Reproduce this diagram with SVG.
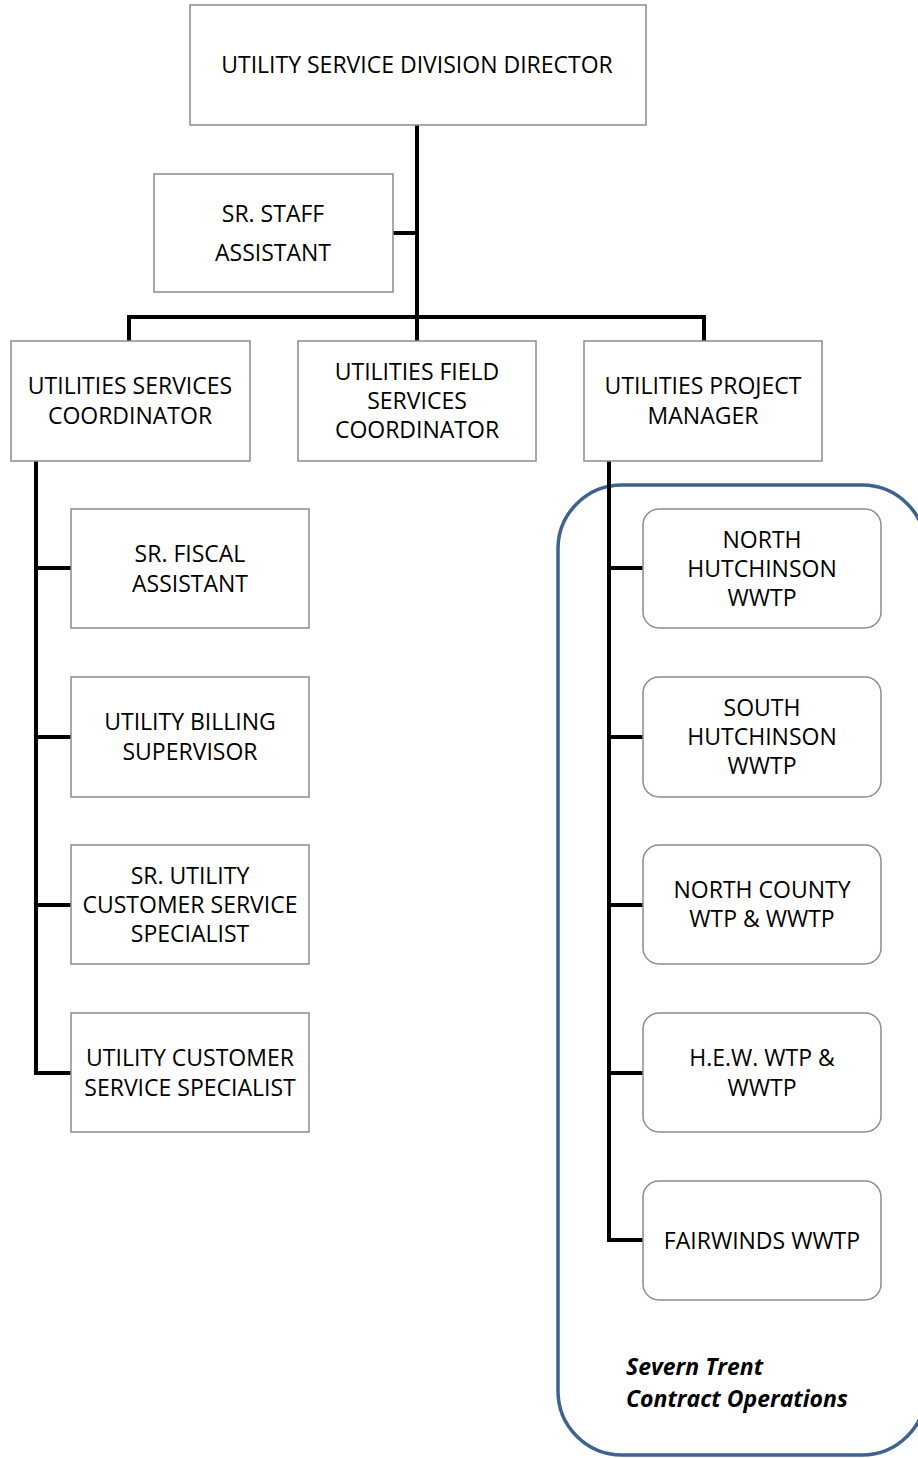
<svg xmlns="http://www.w3.org/2000/svg" width="918" height="1458" viewBox="0 0 918 1458">
  <style>
    .box { fill: #ffffff; stroke: #8c8c8c; stroke-width: 1.5; }
    .link { fill: none; stroke: #000000; stroke-width: 4; stroke-linejoin: miter; }
    .label { font-family: "Open Sans", "Noto Sans", sans-serif; font-size: 23px; fill: #000000; text-anchor: middle; dominant-baseline: central; }
    .note { font-family: "Open Sans", "Noto Sans", sans-serif; font-size: 23px; font-weight: bold; font-style: italic; fill: #000000; dominant-baseline: central; }
    .group { fill: none; stroke: #3d6393; stroke-width: 3.5; }
  </style>
  <rect width="918" height="1458" fill="#ffffff"/>

  <!-- contract operations group outline -->
  <rect class="group" x="558" y="485" width="368" height="970" rx="64" ry="64"/>

  <!-- connectors -->
  <g id="connectors">
    <path class="link" d="M417 125 V341"/>
    <path class="link" d="M393 233 H417"/>
    <path class="link" d="M129 341 V317 H704 V341"/>
    <path class="link" d="M36 461 V1073 H71"/>
    <path class="link" d="M36 568 H71 M36 737 H71 M36 905 H71"/>
    <path class="link" d="M609 461 V1240 H643"/>
    <path class="link" d="M609 568 H643 M609 737 H643 M609 905 H643 M609 1073 H643"/>
  </g>

  <g id="director">
    <rect class="box" x="190" y="5" width="456" height="120"/>
    <text class="label" x="417" y="64">UTILITY SERVICE DIVISION DIRECTOR</text>
  </g>
  <g id="staff-assistant">
    <rect class="box" x="154" y="174" width="239" height="118"/>
    <text class="label" x="273" y="213">SR. STAFF</text>
    <text class="label" x="273" y="252">ASSISTANT</text>
  </g>
  <g id="services-coordinator">
    <rect class="box" x="11" y="341" width="239" height="120"/>
    <text class="label" x="130" y="385">UTILITIES SERVICES</text>
    <text class="label" x="130" y="415">COORDINATOR</text>
  </g>
  <g id="field-coordinator">
    <rect class="box" x="298" y="341" width="238" height="120"/>
    <text class="label" x="417" y="371">UTILITIES FIELD</text>
    <text class="label" x="417" y="400">SERVICES</text>
    <text class="label" x="417" y="429">COORDINATOR</text>
  </g>
  <g id="project-manager">
    <rect class="box" x="584" y="341" width="238" height="120"/>
    <text class="label" x="703" y="385">UTILITIES PROJECT</text>
    <text class="label" x="703" y="415">MANAGER</text>
  </g>

  <g id="fiscal-assistant">
    <rect class="box" x="71" y="509" width="238" height="119"/>
    <text class="label" x="190" y="553">SR. FISCAL</text>
    <text class="label" x="190" y="583">ASSISTANT</text>
  </g>
  <g id="billing-supervisor">
    <rect class="box" x="71" y="677" width="238" height="120"/>
    <text class="label" x="190" y="721">UTILITY BILLING</text>
    <text class="label" x="190" y="751">SUPERVISOR</text>
  </g>
  <g id="sr-customer-specialist">
    <rect class="box" x="71" y="845" width="238" height="119"/>
    <text class="label" x="190" y="875">SR. UTILITY</text>
    <text class="label" x="190" y="904">CUSTOMER SERVICE</text>
    <text class="label" x="190" y="933">SPECIALIST</text>
  </g>
  <g id="customer-specialist">
    <rect class="box" x="71" y="1013" width="238" height="119"/>
    <text class="label" x="190" y="1057">UTILITY CUSTOMER</text>
    <text class="label" x="190" y="1087">SERVICE SPECIALIST</text>
  </g>

  <g id="north-hutchinson">
    <rect class="box" x="643" y="509" width="238" height="119" rx="16" ry="16"/>
    <text class="label" x="762" y="539">NORTH</text>
    <text class="label" x="762" y="568">HUTCHINSON</text>
    <text class="label" x="762" y="597">WWTP</text>
  </g>
  <g id="south-hutchinson">
    <rect class="box" x="643" y="677" width="238" height="120" rx="16" ry="16"/>
    <text class="label" x="762" y="707">SOUTH</text>
    <text class="label" x="762" y="736">HUTCHINSON</text>
    <text class="label" x="762" y="765">WWTP</text>
  </g>
  <g id="north-county">
    <rect class="box" x="643" y="845" width="238" height="119" rx="16" ry="16"/>
    <text class="label" x="762" y="889">NORTH COUNTY</text>
    <text class="label" x="762" y="918">WTP &amp; WWTP</text>
  </g>
  <g id="hew">
    <rect class="box" x="643" y="1013" width="238" height="119" rx="16" ry="16"/>
    <text class="label" x="762" y="1057">H.E.W. WTP &amp;</text>
    <text class="label" x="762" y="1087">WWTP</text>
  </g>
  <g id="fairwinds">
    <rect class="box" x="643" y="1181" width="238" height="119" rx="16" ry="16"/>
    <text class="label" x="762" y="1240">FAIRWINDS WWTP</text>
  </g>

  <g id="contract-note">
    <text class="note" x="626" y="1366">Severn Trent</text>
    <text class="note" x="626" y="1398">Contract Operations</text>
  </g>
</svg>
